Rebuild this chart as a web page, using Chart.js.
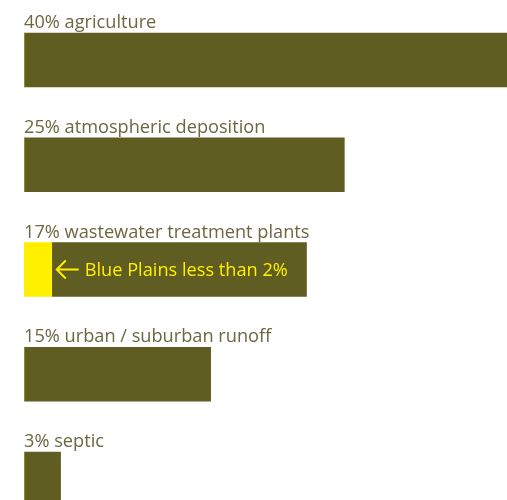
<!DOCTYPE html>
<html>
<head>
<meta charset="utf-8">
<script src="https://cdn.jsdelivr.net/npm/chart.js@4/dist/chart.umd.min.js"></script>
<style>
  html, body { margin: 0; padding: 0; background: #fff; overflow: hidden; }
  #wrap { width: 507px; height: 540px; }
</style>
</head>
<body>
<div id="wrap"><canvas id="c"></canvas></div>
<script>
// sources of nitrogen, as labelled above each bar
const labels = ['40% agriculture', '25% atmospheric deposition', '17% wastewater treatment plants', '15% urban / suburban runoff', '3% septic'];
// bar lengths as drawn in the picture (same unit as the axis)
const barLengths = [40, 25.4, 22.4, 14.8, 2.9];
// yellow Blue Plains part at the start of the wastewater bar
const bluePlains = [0, 0, 2.2, 0, 0];
const note = 'Blue Plains less than 2%';

const olive = '#605d22';
const yellow = '#fff000';
const rest = barLengths.map((v, i) => v - bluePlains[i]);

function fitFont(ctx, text, width, family) {
    // pick a font size so the label spans the same width as in the picture
    ctx.font = '20px ' + family;
    return 20 * width / ctx.measureText(text).width;
}

const barLabels = {
    id: 'barLabels',
    afterDatasetsDraw(chart) {
        const ctx = chart.ctx;
        const meta = chart.getDatasetMeta(1);
        const left = chart.chartArea.left;
        ctx.save();
        const fam = '"Open Sans"';
        const size = fitFont(ctx, labels[2], 285, fam);
        ctx.font = size.toFixed(1) + 'px ' + fam;
        ctx.fillStyle = '#6b6840';
        ctx.textBaseline = 'alphabetic';
        meta.data.forEach((bar, i) => {
            const top = bar.y - bar.height / 2;
            ctx.fillText(labels[i], left, top - 5);
        });
        // annotation inside the wastewater bar
        const b = meta.data[2];
        const x0 = chart.scales.x.getPixelForValue(bluePlains[2]) + 5;
        ctx.strokeStyle = yellow;
        ctx.lineWidth = 2;
        ctx.beginPath();
        ctx.moveTo(x0 + 22, b.y);
        ctx.lineTo(x0, b.y);
        ctx.moveTo(x0 + 9, b.y - 9);
        ctx.lineTo(x0, b.y);
        ctx.lineTo(x0 + 9, b.y + 9);
        ctx.stroke();
        ctx.fillStyle = yellow;
        const nsize = fitFont(ctx, note, 203, fam);
        ctx.font = nsize.toFixed(1) + 'px ' + fam;
        ctx.textBaseline = 'middle';
        ctx.fillText(note, x0 + 28, b.y + 1);
        ctx.restore();
    }
};

new Chart(document.getElementById('c'), {
    type: 'bar',
    data: {
        labels: labels,
        datasets: [
            { data: bluePlains, backgroundColor: yellow, barThickness: 54, borderWidth: 0 },
            { data: rest, backgroundColor: olive, barThickness: 54, borderWidth: 0 }
        ]
    },
    options: {
        indexAxis: 'y',
        responsive: true,
        maintainAspectRatio: false,
        animation: false,
        layout: { padding: { left: 24, right: 0, top: 7.6, bottom: 8.6 } },
        plugins: { legend: { display: false }, tooltip: { enabled: false } },
        scales: {
            x: { stacked: true, min: 0, max: 38.3, display: false },
            y: { stacked: true, display: false, grid: { display: false } }
        }
    },
    plugins: [barLabels]
});
</script>
</body>
</html>
